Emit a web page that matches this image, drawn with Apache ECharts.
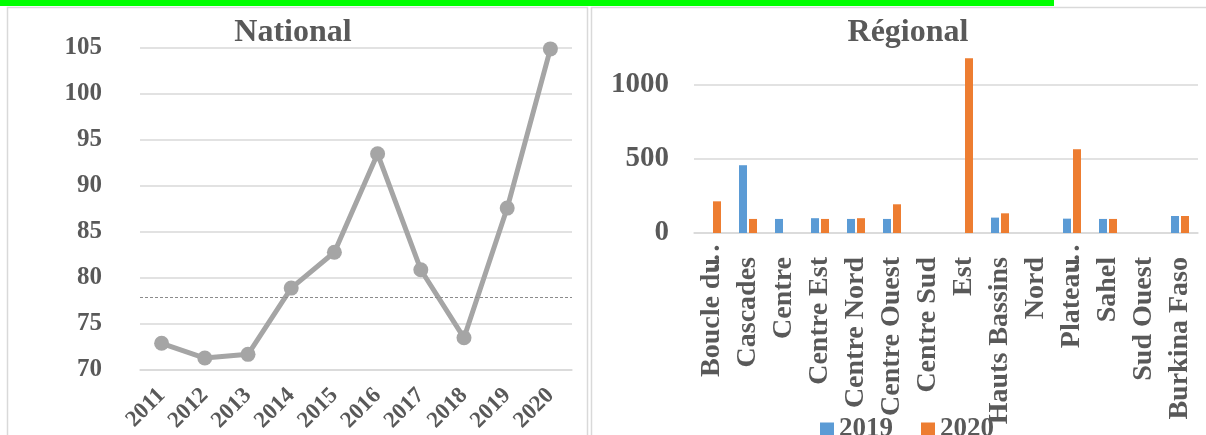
<!DOCTYPE html>
<html>
<head>
<meta charset="utf-8">
<script src="https://cdn.jsdelivr.net/npm/echarts@6/dist/echarts.min.js"></script>
<style>html,body{margin:0;padding:0;background:#fff;}#c{width:1206px;height:435px;}</style>
</head>
<body>
<div id="c"></div>
<script>
// National series
const years = ['2011','2012','2013','2014','2015','2016','2017','2018','2019','2020'];
const nationalValues = [72.9, 71.3, 71.7, 78.9, 82.8, 93.5, 80.9, 73.5, 87.6, 104.9];
const nationalRefLine = 77.9;

// Regional series
const regions = ['Boucle du…','Cascades','Centre','Centre Est','Centre Nord','Centre Ouest','Centre Sud','Est','Hauts Bassins','Nord','Plateau…','Sahel','Sud Ouest','Burkina Faso'];
const values2019 = [null, 458, 95, 100, 95, 95, null, null, 104, null, 97, 95, null, 115];
const values2020 = [214, 95, null, 95, 100, 194, null, 1181, 133, null, 566, 95, null, 115];
const seriesNames = ['2019','2020'];

const FONT = "'Liberation Serif','Times New Roman',serif";
const TXT = '#595959';
const GRID = '#D9D9D9';

const chart = echarts.init(document.getElementById('c'));
chart.setOption({
  animation: false,
  backgroundColor: '#ffffff',
  textStyle: { fontFamily: FONT },
  graphic: [
    { type: 'rect', shape: { x: 0, y: 0, width: 1054, height: 6 }, style: { fill: '#00FF00' }, z: -1 },
    { type: 'rect', shape: { x: 7.5, y: 7.5, width: 580, height: 460 }, style: { fill: 'none', stroke: GRID, lineWidth: 1.5 }, z: -1 },
    { type: 'rect', shape: { x: 591.5, y: 7.5, width: 640, height: 460 }, style: { fill: 'none', stroke: GRID, lineWidth: 1.5 }, z: -1 }
  ],
  title: [
    { text: 'National', left: 288, top: 12, textAlign: 'center',
      textStyle: { fontFamily: FONT, fontWeight: 'bold', fontSize: 32, color: TXT } },
    { text: 'Régional', left: 903, top: 12, textAlign: 'center',
      textStyle: { fontFamily: FONT, fontWeight: 'bold', fontSize: 32, color: TXT } }
  ],
  legend: {
    data: seriesNames,
    left: 815, top: 411,
    itemWidth: 14, itemHeight: 14, itemGap: 28,
    icon: 'rect',
    textStyle: { fontFamily: FONT, fontWeight: 'bold', fontSize: 27, color: TXT }
  },
  grid: [
    { left: 140, right: 634, top: 48, bottom: 65 },
    { left: 694, right: 8, top: 48, bottom: 202 }
  ],
  xAxis: [
    { type: 'category', gridIndex: 0, data: years, boundaryGap: true,
      axisLine: { show: true, lineStyle: { color: GRID, width: 1.5 } },
      axisTick: { show: false },
      axisLabel: { rotate: 45, margin: 22, interval: 0, fontFamily: FONT, fontWeight: 'bold', fontSize: 23, color: TXT } },
    { type: 'category', gridIndex: 1, data: regions, boundaryGap: true,
      axisLine: { show: true, lineStyle: { color: GRID, width: 1.5 } },
      axisTick: { show: false },
      axisLabel: { rotate: 90, margin: 24, interval: 0, fontFamily: FONT, fontWeight: 'bold', fontSize: 28, color: TXT,
        formatter: function (v) {
          if (v.charAt(v.length - 1) === '…') {
            return '{n|' + v.slice(0, -1) + '}{e|…}';
          }
          return '{n|' + v + '}';
        },
        rich: {
          n: { fontFamily: FONT, fontWeight: 'bold', fontSize: 28, color: TXT },
          e: { fontFamily: FONT, fontWeight: 'bold', fontSize: 28, color: TXT, width: 1, align: 'left', overflow: 'none' }
        } } }
  ],
  yAxis: [
    { type: 'value', gridIndex: 0, min: 70, max: 105, interval: 5,
      axisLine: { show: false }, axisTick: { show: false },
      splitLine: { lineStyle: { color: GRID, width: 1.5 } },
      axisLabel: { margin: 38, fontFamily: FONT, fontWeight: 'bold', fontSize: 25, color: TXT } },
    { type: 'value', gridIndex: 1, min: 0, max: 1250, interval: 500,
      axisLine: { show: false }, axisTick: { show: false },
      splitLine: { showMaxLine: false, lineStyle: { color: GRID, width: 1.5 } },
      axisLabel: { showMaxLabel: false, margin: 25, formatter: function (v) { return String(v); },
        fontFamily: FONT, fontWeight: 'bold', fontSize: 29, color: TXT } }
  ],
  series: [
    { name: 'National', type: 'line', xAxisIndex: 0, yAxisIndex: 0, data: nationalValues,
      color: '#A5A5A5', lineStyle: { width: 5, color: '#A5A5A5' },
      symbol: 'circle', symbolSize: 15, itemStyle: { color: '#A5A5A5' },
      markLine: { silent: true, symbol: ['none','none'], label: { show: false },
        lineStyle: { type: [3, 2], color: '#8c8c8c', width: 1 },
        data: [{ yAxis: nationalRefLine }] } },
    { name: seriesNames[0], type: 'bar', xAxisIndex: 1, yAxisIndex: 1, data: values2019,
      barWidth: 8, barGap: '25%', itemStyle: { color: '#5B9BD5' } },
    { name: seriesNames[1], type: 'bar', xAxisIndex: 1, yAxisIndex: 1, data: values2020,
      barWidth: 8, barGap: '25%', itemStyle: { color: '#ED7D31' } }
  ]
});
</script>
</body>
</html>
